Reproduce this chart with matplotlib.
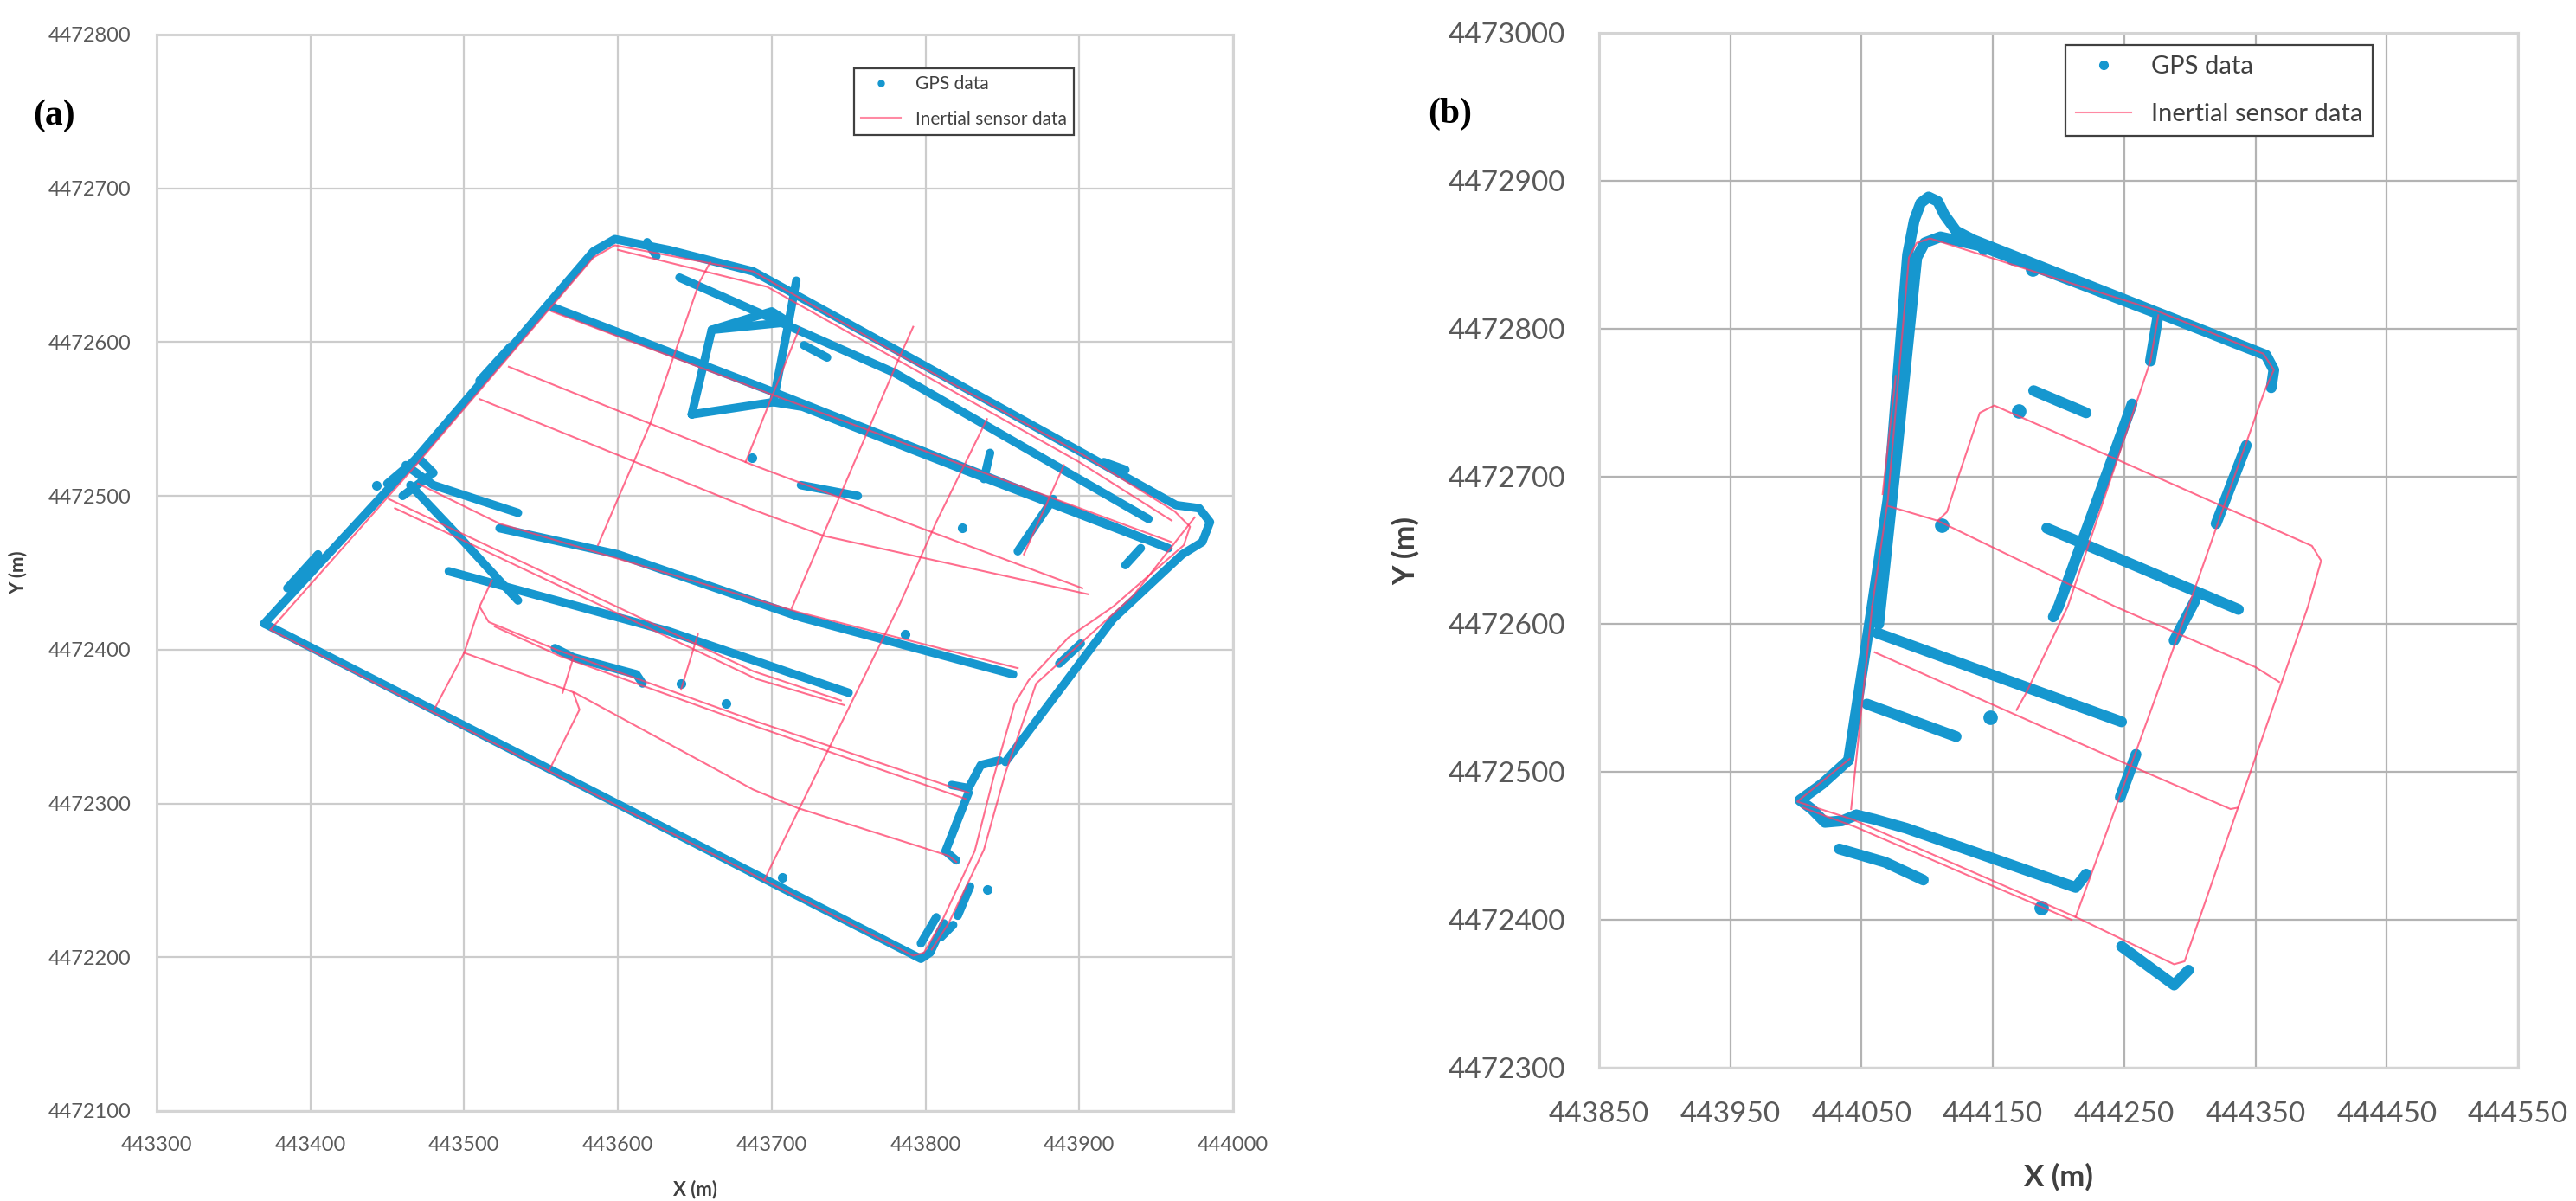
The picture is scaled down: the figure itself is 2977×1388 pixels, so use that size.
import matplotlib.pyplot as plt
from matplotlib.lines import Line2D

# ---------------- panel (a) : inertial sensor tracks (x, y in m) ----------------
ins_a_outer = [(443374, 4472413), (443466, 4472517), (443584, 4472655), (443598, 4472663),
               (443688, 4472646), (443779, 4472594), (443902, 4472527), (443962, 4472490),
               (443972, 4472480), (443968, 4472468), (443922, 4472428), (443893, 4472408),
               (443867, 4472380), (443858, 4472365), (443844, 4472316), (443832, 4472269),
               (443810, 4472222), (443799, 4472203), (443792, 4472201), (443374, 4472413)]
ins_a_right2 = [(443975, 4472486), (443935, 4472435), (443872, 4472378), (443852, 4472320),
                (443838, 4472270), (443815, 4472222), (443804, 4472205)]
ins_a_top2 = [(443600, 4472660), (443697, 4472636), (443722, 4472622), (443900, 4472522), (443960, 4472484)]
ins_a_d1 = [(443557, 4472620), (443700, 4472566), (443960, 4472470)]
ins_a_d2 = [(443529, 4472584), (443688, 4472520), (443800, 4472478), (443902, 4472440)]
ins_a_d3 = [(443510, 4472563), (443688, 4472491), (443734, 4472474), (443906, 4472436)]
ins_a_d4 = [(443451, 4472498), (443633, 4472412), (443688, 4472386), (443745, 4472367)]
ins_a_d4b = [(443455, 4472492), (443635, 4472407), (443690, 4472381), (443747, 4472364)]
ins_a_d5 = [(443470, 4472508), (443523, 4472482), (443719, 4472424), (443860, 4472388)]
ins_a_d6 = [(443510, 4472428), (443516, 4472418), (443560, 4472400), (443688, 4472354), (443828, 4472307)]
ins_a_d6b = [(443520, 4472415), (443562, 4472396), (443690, 4472350), (443826, 4472303)]
ins_a_d7 = [(443500, 4472398), (443572, 4472372), (443688, 4472309), (443717, 4472297),
            (443815, 4472266), (443820, 4472262)]
ins_a_v1 = [(443481, 4472362), (443500, 4472398), (443510, 4472428), (443518, 4472445)]
ins_a_v2 = [(443555, 4472321), (443575, 4472361), (443571, 4472372)]
ins_a_v2b = [(443564, 4472372), (443571, 4472395)]
ins_a_v3 = [(443695, 4472250), (443783, 4472429), (443807, 4472483), (443840, 4472550)]
ins_a_v4 = [(443713, 4472427), (443783, 4472590), (443792, 4472610)]
ins_a_v5 = [(443652, 4472410), (443641, 4472374)]
ins_a_v6 = [(443587, 4472468), (443621, 4472547), (443653, 4472639), (443660, 4472652)]
ins_a_v7 = [(443890, 4472520), (443864, 4472462)]
ins_a_v8 = [(443718, 4472609), (443683, 4472522)]

# ---------------- panel (a) : GPS tracks ----------------
gps_a_outer = [(443370, 4472417), (443465, 4472520), (443584, 4472659), (443598, 4472667),
               (443633, 4472660), (443688, 4472646), (443779, 4472596), (443902, 4472528),
               (443963, 4472494), (443978, 4472492), (443985, 4472483), (443980, 4472470),
               (443967, 4472462), (443922, 4472420), (443852, 4472327)]
gps_a_bottom = [(443370, 4472417), (443797, 4472199), (443803, 4472203), (443812, 4472222)]
gps_a_b = [(443557, 4472623), (443700, 4472568), (443958, 4472466)]
gps_a_b2 = [(443640, 4472642), (443780, 4472580), (443945, 4472485)]
gps_a_c = [(443701, 4472561), (443720, 4472558), (443830, 4472515), (443942, 4472472)]
gps_a_quad = [(443648, 4472553), (443661, 4472608), (443711, 4472613), (443701, 4472561), (443648, 4472553)]
gps_a_quad2 = [(443661, 4472608), (443700, 4472620), (443711, 4472613), (443716, 4472640)]
gps_a_s1 = [(443523, 4472479), (443600, 4472462), (443719, 4472421), (443857, 4472384)]
gps_a_s2 = [(443490, 4472451), (443560, 4472432), (443633, 4472412), (443750, 4472372)]
gps_a_s3 = [(443559, 4472401), (443571, 4472395), (443612, 4472384), (443616, 4472378)]
gps_a_blob1 = [(443462, 4472520), (443480, 4472507), (443535, 4472489)]
gps_a_blob2 = [(443465, 4472507), (443500, 4472470), (443522, 4472446), (443535, 4472432)]
gps_a_blob3 = [(443450, 4472508), (443470, 4472525), (443480, 4472515), (443460, 4472500)]
gps_a_brk1 = [(443817, 4472312), (443828, 4472310), (443836, 4472325), (443848, 4472328)]
gps_a_brk2 = [(443828, 4472307), (443813, 4472269), (443820, 4472263)]
gps_a_f1 = [(443860, 4472464), (443883, 4472498)]
gps_a_f2 = [(443838, 4472511), (443842, 4472528)]
gps_a_f3 = [(443721, 4472598), (443736, 4472590)]
gps_a_f4 = [(443719, 4472507), (443756, 4472500)]
gps_a_f5 = [(443797, 4472209), (443807, 4472226)]
gps_a_f6 = [(443821, 4472227), (443829, 4472246)]
gps_a_f7 = [(443810, 4472213), (443818, 4472221)]
gps_a_f8 = [(443930, 4472455), (443940, 4472466)]
gps_a_f9 = [(443916, 4472522), (443930, 4472517)]
gps_a_f10 = [(443887, 4472391), (443901, 4472404)]
gps_a_f11 = [(443385, 4472440), (443405, 4472462)]
gps_a_f12 = [(443510, 4472575), (443530, 4472597)]
gps_a_f13 = [(443619, 4472665), (443625, 4472656)]
gps_a_dot_x = [443443, 443687, 443824, 443787, 443707, 443840, 443641, 443670]
gps_a_dot_y = [4472507, 4472525, 4472479, 4472410, 4472252, 4472244, 4472378, 4472365]

# ---------------- panel (b) : inertial sensor tracks ----------------
ins_b_outer = [(444058, 4472612), (444070, 4472684), (444086, 4472848), (444092, 4472858),
               (444102, 4472861), (444272, 4472813), (444356, 4472783), (444364, 4472772),
               (444357, 4472758), (444299, 4472612), (444248, 4472487), (444213, 4472402)]
ins_b_left_low = [(444058, 4472612), (444042, 4472475)]
ins_b_left_par = [(444066, 4472688), (444076, 4472768)]
ins_b_rect = [(444108, 4472670), (444115, 4472676), (444123, 4472698), (444140, 4472743),
              (444151, 4472748), (444210, 4472725), (444393, 4472653), (444400, 4472643),
              (444390, 4472612), (444296, 4472372), (444288, 4472370), (444213, 4472402),
              (444043, 4472468), (444001, 4472480), (444041, 4472509)]
ins_b_bottom2 = [(444005, 4472476), (444045, 4472463), (444210, 4472400)]
ins_b_d1 = [(444070, 4472680), (444108, 4472670), (444243, 4472612), (444350, 4472571), (444368, 4472561)]
ins_b_d2 = [(444060, 4472581), (444253, 4472505), (444331, 4472475), (444337, 4472476)]
ins_b_v = [(444276, 4472809), (444270, 4472778), (444207, 4472612), (444175, 4472553), (444168, 4472542)]

# ---------------- panel (b) : GPS tracks ----------------
gps_b_outer = [(444040, 4472508), (444058, 4472612), (444070, 4472684), (444085, 4472850),
               (444090, 4472873), (444095, 4472885), (444101, 4472889), (444108, 4472886),
               (444113, 4472877), (444122, 4472866), (444135, 4472860), (444272, 4472812),
               (444358, 4472782), (444364, 4472772), (444362, 4472760)]
gps_b_inner = [(444063, 4472600), (444075, 4472700), (444092, 4472848), (444098, 4472858),
               (444110, 4472862), (444140, 4472856), (444276, 4472810), (444270, 4472778)]
gps_b_loop = [(444040, 4472508), (444020, 4472492), (444003, 4472481), (444012, 4472475),
              (444022, 4472466), (444035, 4472467), (444046, 4472471)]
gps_b_s1 = [(444046, 4472471), (444060, 4472468), (444084, 4472462), (444213, 4472422), (444221, 4472431)]
gps_b_s2 = [(444033, 4472448), (444068, 4472439), (444097, 4472427)]
gps_b_s3 = [(444062, 4472594), (444248, 4472534)]
gps_b_s4 = [(444054, 4472546), (444122, 4472524)]
gps_b_s5 = [(444248, 4472382), (444288, 4472356), (444299, 4472366)]
gps_b_s6 = [(444191, 4472665), (444337, 4472610)]
gps_b_s7 = [(444181, 4472758), (444221, 4472743)]
gps_b_v1 = [(444256, 4472749), (444200, 4472612), (444196, 4472605)]
gps_b_v2 = [(444343, 4472721), (444320, 4472668)]
gps_b_v3 = [(444304, 4472616), (444288, 4472589)]
gps_b_v4 = [(444259, 4472512), (444247, 4472483)]
gps_b_blob_x = [444170, 444148, 444187, 444111, 444128, 444143, 444165, 444180]
gps_b_blob_y = [4472744, 4472537, 4472408, 4472667, 4472860, 4472855, 4472848, 4472840]

# axis ticks
ticks_a_x = [443300, 443400, 443500, 443600, 443700, 443800, 443900, 444000]
ticks_a_y = [4472100, 4472200, 4472300, 4472400, 4472500, 4472600, 4472700, 4472800]
ticks_b_x = [443850, 443950, 444050, 444150, 444250, 444350, 444450, 444550]
ticks_b_y = [4472300, 4472400, 4472500, 4472600, 4472700, 4472800, 4472900, 4473000]

ins_a = [ins_a_outer, ins_a_right2, ins_a_top2, ins_a_d1, ins_a_d2, ins_a_d3, ins_a_d4, ins_a_d4b,
         ins_a_d5, ins_a_d6, ins_a_d6b, ins_a_d7, ins_a_v1, ins_a_v2, ins_a_v2b, ins_a_v3,
         ins_a_v4, ins_a_v5, ins_a_v6, ins_a_v7, ins_a_v8]
gps_a = [gps_a_outer, gps_a_bottom, gps_a_b, gps_a_b2, gps_a_c, gps_a_quad, gps_a_quad2,
         gps_a_s1, gps_a_s2, gps_a_s3, gps_a_blob1, gps_a_blob2, gps_a_blob3, gps_a_brk1,
         gps_a_brk2, gps_a_f1, gps_a_f2, gps_a_f3, gps_a_f4, gps_a_f5, gps_a_f6, gps_a_f7,
         gps_a_f8, gps_a_f9, gps_a_f10, gps_a_f11, gps_a_f12, gps_a_f13]
ins_b = [ins_b_outer, ins_b_left_low, ins_b_left_par, ins_b_rect, ins_b_bottom2,
         ins_b_d1, ins_b_d2, ins_b_v]
gps_b = [gps_b_outer, gps_b_inner, gps_b_loop, gps_b_s1, gps_b_s2, gps_b_s3, gps_b_s4,
         gps_b_s5, gps_b_s6, gps_b_s7, gps_b_v1, gps_b_v2, gps_b_v3, gps_b_v4]

BLUE = '#1697cf'
PINK = '#ff3d68'
plt.rcParams['font.family'] = ['Lato', 'DejaVu Sans']

W, H = 2977, 1388
fig = plt.figure(figsize=(W / 100, H / 100), dpi=100)


def draw_panel(ax, ins, gps, dot_x, dot_y, gps_lw, ins_lw, dot_ms):
    for tr in gps:
        xs, ys = zip(*tr)
        ax.plot(xs, ys, color=BLUE, lw=gps_lw, solid_capstyle='round',
                solid_joinstyle='round', zorder=3)
    ax.plot(dot_x, dot_y, 'o', color=BLUE, ms=dot_ms, zorder=3)
    for tr in ins:
        xs, ys = zip(*tr)
        ax.plot(xs, ys, color=PINK, lw=ins_lw, alpha=0.75, zorder=4)


def style_axes(ax, xt, yt, grid_col, fs, pad):
    ax.set_xlim(xt[0], xt[-1])
    ax.set_ylim(yt[0], yt[-1])
    ax.set_xticks(xt)
    ax.set_yticks(yt)
    ax.set_xticklabels([str(v) for v in xt])
    ax.set_yticklabels([str(v) for v in yt])
    ax.grid(True, color=grid_col, lw=1.6, zorder=0)
    ax.set_axisbelow(True)
    ax.tick_params(length=0, labelsize=fs, labelcolor='#595959', pad=pad)
    for s in ax.spines.values():
        s.set_color('#d4d4d4')
        s.set_linewidth(2.2)


# ---- panel (a)
ax_a = fig.add_axes([181 / W, 1 - 1284 / H, 1244 / W, 1244 / H])
draw_panel(ax_a, ins_a, gps_a, gps_a_dot_x, gps_a_dot_y, gps_lw=7, ins_lw=1.5, dot_ms=7)
style_axes(ax_a, ticks_a_x, ticks_a_y, '#cccccc', 17, 21)
ax_a.set_xlabel('X (m)', fontsize=16, fontweight='bold', color='#404040')
ax_a.set_ylabel('Y (m)', fontsize=16, fontweight='bold', color='#404040')
ax_a.xaxis.set_label_coords(0.5, -0.064)
ax_a.yaxis.set_label_coords(-0.12, 0.5)

# ---- panel (b)
ax_b = fig.add_axes([1848 / W, 1 - 1234 / H, 1062 / W, 1196 / H])
draw_panel(ax_b, ins_b, gps_b, gps_b_blob_x, gps_b_blob_y, gps_lw=9, ins_lw=1.5, dot_ms=11)
style_axes(ax_b, ticks_b_x, ticks_b_y, '#b3b3b3', 24, 28)
ax_b.set_xlabel('X (m)', fontsize=25, fontweight='bold', color='#404040')
ax_b.set_ylabel('Y (m)', fontsize=25, fontweight='bold', color='#404040')
ax_b.xaxis.set_label_coords(0.5, -0.092)
ax_b.yaxis.set_label_coords(-0.195, 0.5)

# legends
for ax, fs, ms, anchor in [(ax_a, 15, 5, (0.648, 0.969)), (ax_b, 21, 7, (0.5075, 0.988))]:
    handles = [Line2D([], [], ls='none', marker='o', color=BLUE, ms=ms),
               Line2D([], [], color=PINK, lw=1.5, alpha=0.6)]
    leg = ax.legend(handles, ['GPS data', 'Inertial sensor data'], loc='upper left',
                    bbox_to_anchor=anchor, borderaxespad=0, fontsize=fs, fancybox=False,
                    framealpha=1, edgecolor='#404040', labelspacing=1.0, handlelength=2.2)
    leg.get_frame().set_linewidth(1.6)
    for t in leg.get_texts():
        t.set_color('#404040')

fig.text(62 / W, 1 - 134 / H, '(a)', fontsize=30, fontweight='bold',
         family='Liberation Serif', ha='center', va='center')
fig.text(1676 / W, 1 - 132 / H, '(b)', fontsize=30, fontweight='bold',
         family='Liberation Serif', ha='center', va='center')

fig.savefig('out.png', dpi=100)
